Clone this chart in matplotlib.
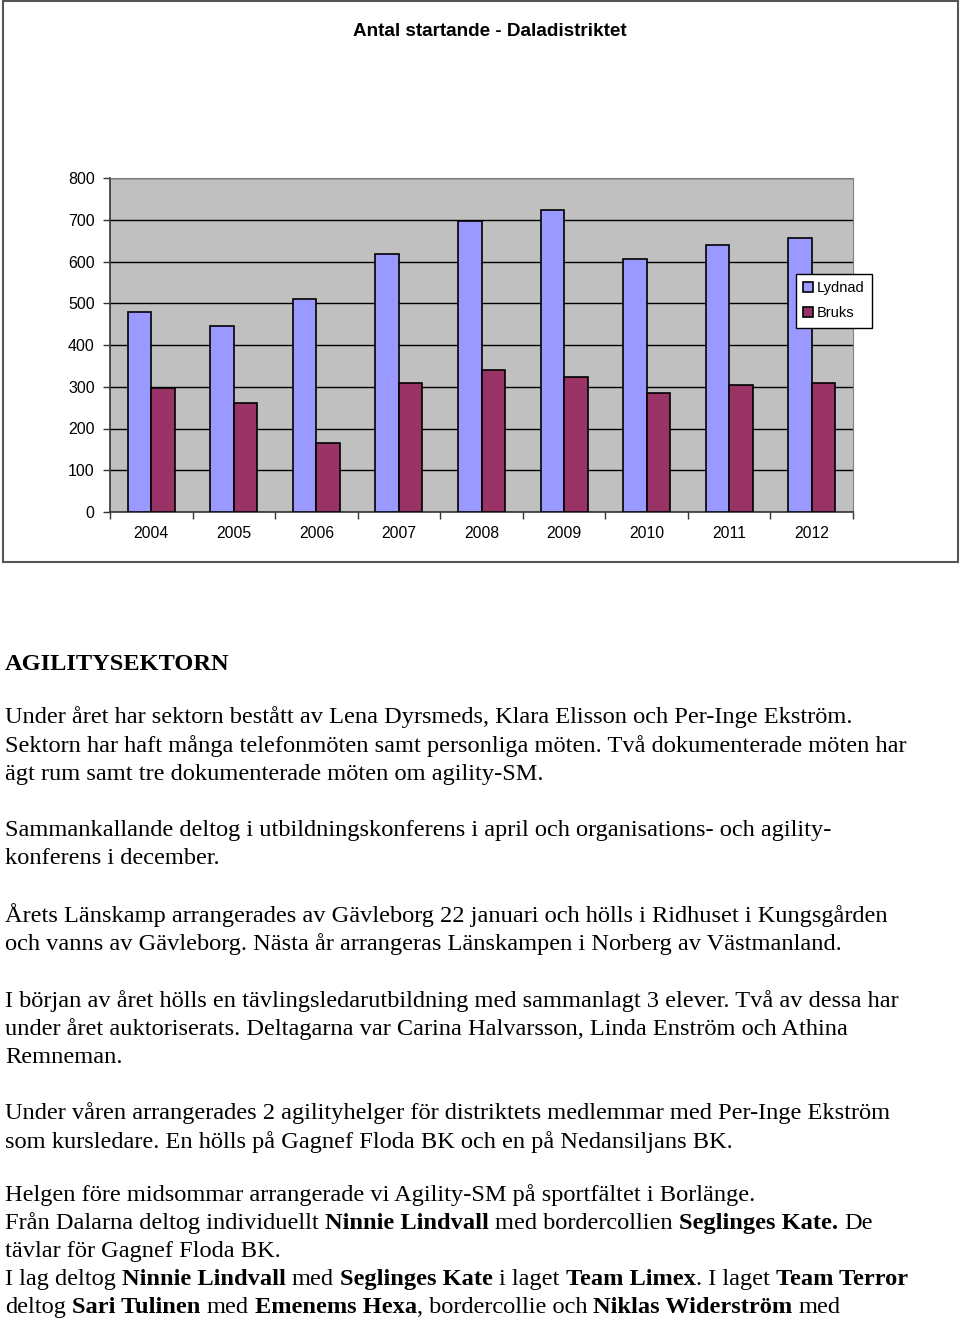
import matplotlib
matplotlib.use("Agg")
import matplotlib.pyplot as plt
from matplotlib.patches import Rectangle

# data
years = ["2004", "2005", "2006", "2007", "2008", "2009", "2010", "2011", "2012"]
lydnad = [480, 445, 509, 619, 698, 724, 607, 640, 657]
bruks = [297, 262, 166, 309, 341, 323, 285, 305, 310]

title = "Antal startande - Daladistriktet"
heading = "AGILITYSEKTORN"

# text lines of the page: (baseline in px, [(text, bold), ...])
lines = [
    (723, [("Under året har sektorn bestått av Lena Dyrsmeds, Klara Elisson och Per-Inge Ekström.", False)]),
    (752, [("Sektorn har haft många telefonmöten samt personliga möten. Två dokumenterade möten har", False)]),
    (780, [("ägt rum samt tre dokumenterade möten om agility-SM.", False)]),
    (836, [("Sammankallande deltog i utbildningskonferens i april och organisations- och agility-", False)]),
    (864, [("konferens i december.", False)]),
    (922, [("Årets Länskamp arrangerades av Gävleborg 22 januari och hölls i Ridhuset i Kungsgården", False)]),
    (950, [("och vanns av Gävleborg. Nästa år arrangeras Länskampen i Norberg av Västmanland.", False)]),
    (1007, [("I början av året hölls en tävlingsledarutbildning med sammanlagt 3 elever. Två av dessa har", False)]),
    (1035, [("under året auktoriserats. Deltagarna var Carina Halvarsson, Linda Enström och Athina", False)]),
    (1063, [("Remneman.", False)]),
    (1119, [("Under våren arrangerades 2 agilityhelger för distriktets medlemmar med Per-Inge Ekström", False)]),
    (1148, [("som kursledare. En hölls på Gagnef Floda BK och en på Nedansiljans BK.", False)]),
    (1201, [("Helgen före midsommar arrangerade vi Agility-SM på sportfältet i Borlänge.", False)]),
    (1229, [("Från Dalarna deltog individuellt ", False), ("Ninnie Lindvall", True),
            (" med bordercollien ", False), ("Seglinges Kate.", True), (" De", False)]),
    (1257, [("tävlar för Gagnef Floda BK.", False)]),
    (1285, [("I lag deltog ", False), ("Ninnie Lindvall", True), (" med ", False),
            ("Seglinges Kate", True), (" i laget ", False), ("Team Limex", True),
            (". I laget ", False), ("Team Terror", True)]),
    (1313, [("deltog ", False), ("Sari Tulinen", True), (" med ", False), ("Emenems Hexa", True),
            (", bordercollie och ", False), ("Niklas Widerström", True), (" med", False)]),
]

W, H = 960, 1324
fig = plt.figure(figsize=(W / 100, H / 100), dpi=100)
fig.patch.set_facecolor("white")

# chart frame
fig.patches.append(Rectangle((3 / W, 1 - 562 / H), 955 / W, 561 / H, transform=fig.transFigure,
                             facecolor="none", edgecolor="#555555", linewidth=1.5, zorder=-1))

ax = fig.add_axes([110 / W, 1 - 512 / H, 743 / W, 334 / H])
ax.set_facecolor("#C0C0C0")
x = list(range(len(years)))
w = 0.285
ax.bar([i - w / 2 for i in x], lydnad, w, color="#9999FF", edgecolor="black", linewidth=1.2,
       label="Lydnad", zorder=3)
ax.bar([i + w / 2 for i in x], bruks, w, color="#993366", edgecolor="black", linewidth=1.2,
       label="Bruks", zorder=3)

ax.set_xlim(-0.5, len(years) - 0.5)
ax.set_ylim(0, 800)
ax.set_yticks(range(0, 801, 100))
ax.yaxis.grid(True, color="black", linewidth=1, zorder=1)
ax.set_axisbelow(True)
ax.set_xticks(x)
ax.set_xticklabels(years)
ax.set_xticks([i + 0.5 for i in range(-1, len(years))], minor=True)
ax.tick_params(axis="x", which="major", length=0, pad=10, labelsize=11.3)
ax.tick_params(axis="x", which="minor", length=5, width=1, direction="out", color="#333333")
ax.tick_params(axis="y", length=5, width=1, direction="out", pad=6, labelsize=11.5, color="#333333")
for lab in ax.get_xticklabels() + ax.get_yticklabels():
    lab.set_fontfamily("Liberation Sans")
for side in ["top", "right"]:
    ax.spines[side].set_color("#808080")
for side in ["left", "bottom"]:
    ax.spines[side].set_color("#333333")
    ax.spines[side].set_linewidth(1.2)

leg = ax.legend(loc="upper left", bbox_to_anchor=(796 / W, 1 - 274 / H), bbox_transform=fig.transFigure,
                borderaxespad=0, fancybox=False, framealpha=1, edgecolor="black",
                prop={"family": "Liberation Sans", "size": 10.5}, handlelength=0.65, handleheight=0.65,
                handletextpad=0.3, labelspacing=0.75, borderpad=0.5)
leg.get_frame().set_linewidth(1)

fig.text(490 / W, 1 - 32 / H, title, ha="center", va="center", fontsize=13.6, fontweight="bold",
         family="Liberation Sans")

# text below the chart
fs = 17.6
fig.text(5 / W, 1 - 670 / H, heading, ha="left", va="baseline", fontsize=fs, fontweight="bold",
         family="Liberation Serif")

renderer = fig.canvas.get_renderer()


def text_width(s, bold):
    t = fig.text(0, 0, s, fontsize=fs, family="Liberation Serif",
                 fontweight="bold" if bold else "normal")
    wpx = t.get_window_extent(renderer).width
    t.remove()
    return wpx


space_w = {b: text_width("x x", b) - text_width("xx", b) for b in (False, True)}

for base, segs in lines:
    xpos = 5
    for s, bold in segs:
        lead = len(s) - len(s.lstrip(" "))
        trail = len(s) - len(s.rstrip(" "))
        core = s.strip(" ")
        xpos += lead * space_w[bold]
        fig.text(xpos / W, 1 - base / H, core, ha="left", va="baseline", fontsize=fs,
                 family="Liberation Serif", fontweight="bold" if bold else "normal")
        xpos += text_width(core, bold) + trail * space_w[bold]

fig.savefig("out.png", dpi=100)
